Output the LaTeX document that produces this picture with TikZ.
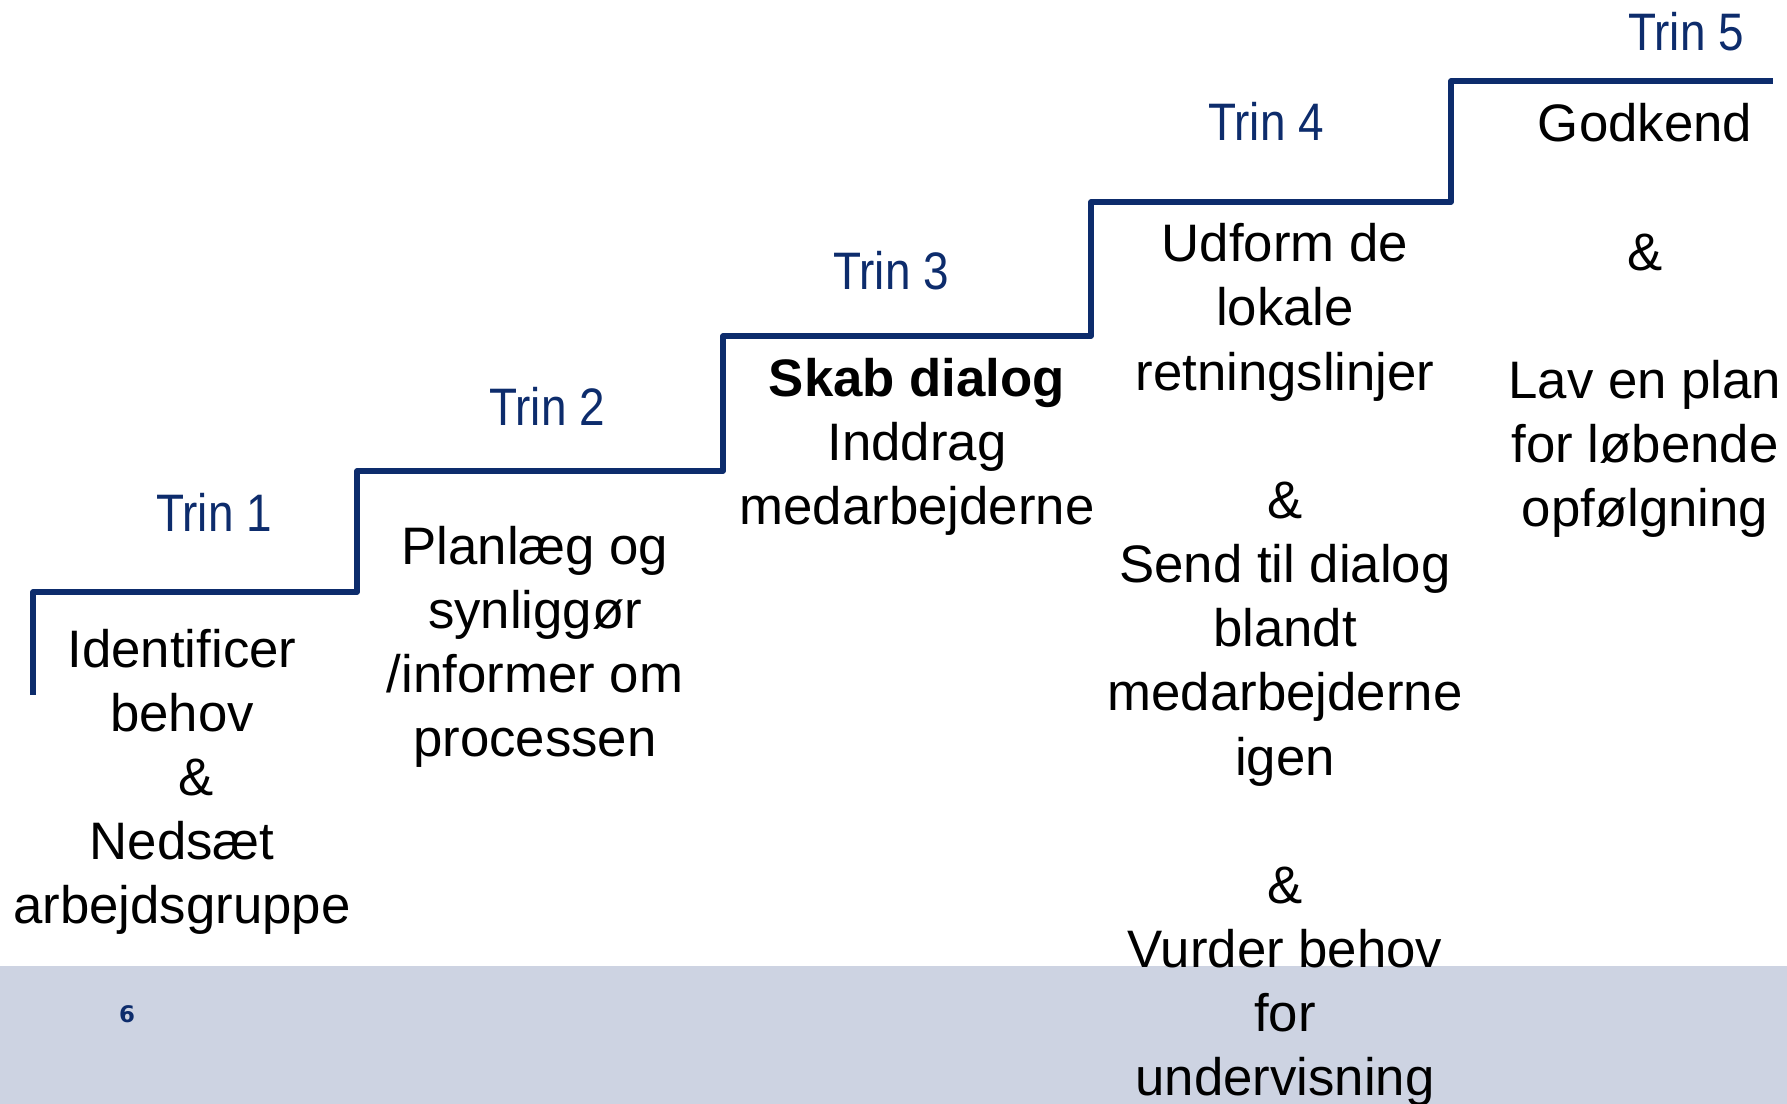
\documentclass[tikz,border=0pt]{standalone}
\usepackage{fontspec}
\setmainfont{Liberation Sans}
\newfontfamily\narrowsans[FakeStretch=0.87]{Liberation Sans}
\newfontfamily\pagefont{DejaVu Sans}
\definecolor{trinblue}{RGB}{13,44,108}
\definecolor{bandgrey}{RGB}{205,211,226}

\begin{document}
\begin{tikzpicture}[x=0.01cm, y=-0.01cm,
  stairline/.style={draw=trinblue, line width=1.5pt, line join=round},
  trinlabel/.style={font=\narrowsans\fontsize{15}{18}\selectfont, text=trinblue, inner sep=0pt},
  stepbody/.style={font=\fontsize{15}{18.25}\selectfont, align=center, inner sep=0pt, anchor=base}]
  \useasboundingbox (0,0) rectangle (1787,1104);
  \clip (0,0) rectangle (1787,1104);

  % Footer band with page number
  \fill[bandgrey] (0,966) rectangle (1787,1104);
  \node[font=\pagefont\bfseries\fontsize{6.5}{8}\selectfont, text=trinblue, inner sep=0pt] (pagenum) at (127,1014) {6};

  % Staircase
  \draw[stairline] (33,695) -- (33,592) -- (357,592) -- (357,471) -- (723,471)
    -- (723,336) -- (1091,336) -- (1091,202) -- (1451,202) -- (1451,81) -- (1773,81);

  % Step labels
  \node[trinlabel] (trin1) at (214,512) {Trin 1};
  \node[trinlabel] (trin2) at (547,406) {Trin 2};
  \node[trinlabel] (trin3) at (891,271) {Trin 3};
  \node[trinlabel] (trin4) at (1266,121) {Trin 4};
  \node[trinlabel] (trin5) at (1686,32) {Trin 5};

  % Step contents (placed at the baseline of the last line)
  \node[stepbody] (body1) at (182,924) {Identificer\\behov\\\hspace*{0.55em}\&\\Nedsæt\\arbejdsgruppe};
  \node[stepbody] (body2) at (535,757) {Planlæg og\\synliggør\\/informer om\\processen};
  \node[stepbody] (body3) at (917,525) {\textbf{Skab dialog}\\Inddrag\\medarbejderne};
  \node[stepbody] (body4) at (1285,1096) {Udform de\\lokale\\retningslinjer\\~\\\&\\Send til dialog\\blandt\\medarbejderne\\igen\\~\\\&\\Vurder behov\\for\\undervisning};
  \node[stepbody] (body5) at (1645,527) {Godkend\\~\\\&\\~\\Lav en plan\\for løbende\\opfølgning};
\end{tikzpicture}
\end{document}
